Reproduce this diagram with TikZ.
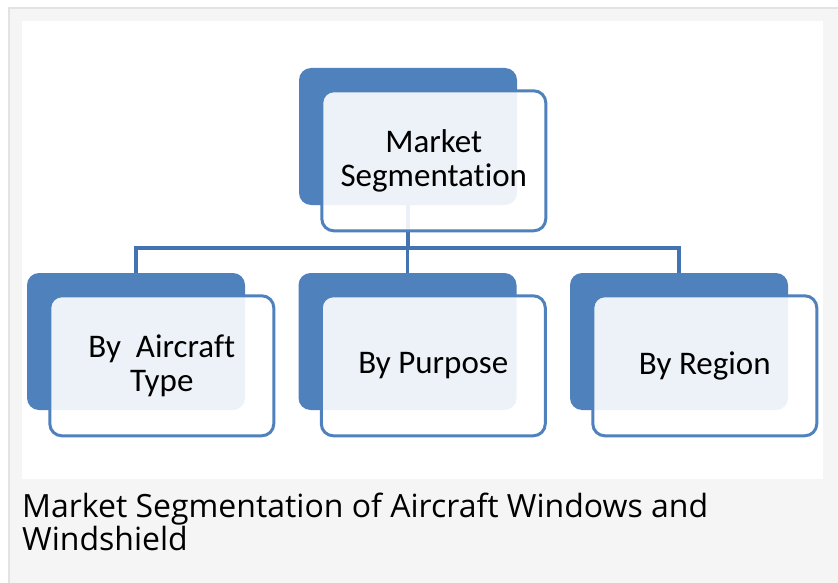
\documentclass[tikz,border=0pt]{standalone}
\usepackage{fontspec}
\setmainfont{Carlito}[Ligatures=NoCommon]
\newfontfamily\captionfont{Open Sans}
\usepackage{xcolor}
\usepackage{tikz}
\usetikzlibrary{positioning}
\definecolor{segblue}{HTML}{4F81BD}
\definecolor{linkblue}{HTML}{4373B0}
\definecolor{panelgray}{HTML}{F5F5F5}
\definecolor{framegray}{HTML}{E3E3E3}

\begin{document}
\begin{tikzpicture}[x=1pt,y=-1pt,
    backbox/.style={fill=segblue, rounded corners=12pt, minimum width=218pt, minimum height=137pt, inner sep=0pt},
    frontbox/.style={draw=segblue, line width=3pt, fill=white, fill opacity=0.9, text opacity=1, rounded corners=12pt,
        minimum width=224pt, minimum height=140pt, inner sep=0pt, align=center, font=\fontsize{33}{34}\selectfont},
    link/.style={draw=linkblue, line width=3.5pt}]
    % 
    \useasboundingbox (0,0) rectangle (838,583);
    \draw[draw=framegray, line width=2pt, fill=panelgray] (9,8) rectangle (850,600);
    \fill[white] (22,21) rectangle (823,479);

    % 
    \node[backbox] (topB) at (408,136.5) {};
    \node[backbox] (typeB) at (136,341.5) {};
    \node[backbox] (purposeB) at (407.5,341.5) {};
    \node[backbox] (regionB) at (679,341.5) {};

    % 
    \coordinate (bus) at (408,248);
    \draw[link] (topB.south) -- (topB.south |- bus);
    \draw[link] (typeB.north) |- (regionB.north |- bus) -- (regionB.north);
    \draw[link] (purposeB.north) -- (purposeB.north |- bus);

    % 
    \node[frontbox, below right=21.5pt and 21.5pt of topB.north west] (topF) {Market\\Segmentation};
    \node[frontbox, below right=21.5pt and 21.5pt of typeB.north west] (typeF) {By\ \ Aircraft\\Type};
    \node[frontbox, below right=21.5pt and 21.5pt of purposeB.north west] (purposeF) {By Purpose};
    \node[frontbox, below right=21.5pt and 21.5pt of regionB.north west] (regionF) {By Region};

    % 
    \node[anchor=base west, align=left, inner sep=0pt, font=\captionfont\fontsize{32}{33}\selectfont] (caption) at (22,550)
        {Market Segmentation of Aircraft Windows and\\Windshield};
\end{tikzpicture}
\end{document}
